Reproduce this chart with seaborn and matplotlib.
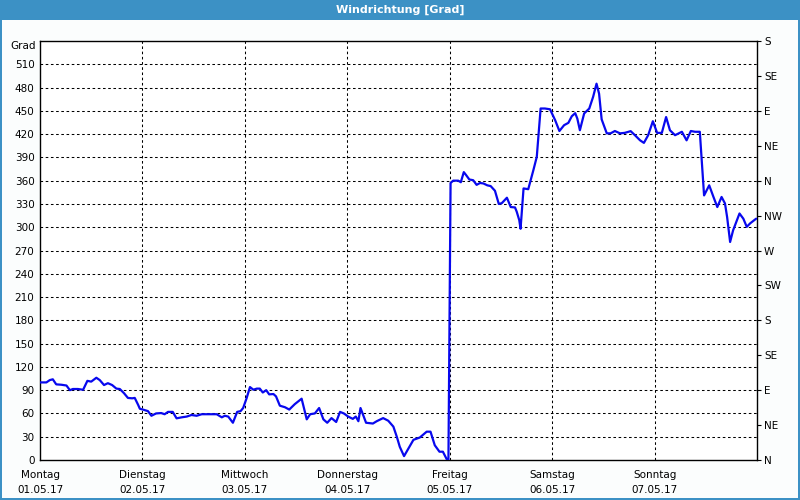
import numpy as np
import pandas as pd
import matplotlib
matplotlib.use("Agg")
import matplotlib.pyplot as plt
import seaborn as sns
from matplotlib.patches import Rectangle

# ---- data ----
hours = [0, 1.5, 2.3, 3.0, 3.8, 5.0, 6.2, 7.0, 7.7, 8.9, 10.1, 11.1, 12.0, 13.2, 14.0,
         15.0, 15.9, 16.9, 17.9, 18.7, 19.7, 20.6, 21.6, 22.2, 23.0, 23.4, 24.1, 25.3,
         26.1, 27.2, 28.4, 29.2, 30.0, 31.1, 32.0, 33.2, 34.4, 35.5, 36.7, 37.9, 39.1,
         40.2, 41.4, 42.6, 43.3, 44.1, 45.2, 46.2, 47.0, 47.6, 48.4, 49.2, 50.0, 50.8,
         51.5, 52.2, 53.0, 53.7, 54.7, 55.3, 56.2, 57.4, 58.4, 59.7, 61.3, 62.5, 63.3,
         64.4, 65.4, 66.4, 67.3, 68.3, 69.4, 70.3, 71.2, 72.2, 73.3, 74.0, 74.6, 75.1,
         76.4, 78.0, 78.9, 80.4, 81.6, 82.8, 83.6, 84.3, 85.3, 87.5, 89.0, 90.6, 91.5,
         92.5, 93.6, 94.4, 95.3, 95.7, 96.2, 96.8, 98.0, 98.6, 99.3, 99.8, 100.6, 101.5,
         102.3, 103.1, 103.9, 104.8, 105.6, 106.6, 107.5, 108.2, 109.4, 110.3, 111.3,
         111.7, 112.3, 112.6, 113.3, 114.4, 115.6, 116.4, 117.3, 118.3, 119.5, 120.7,
         121.7, 122.8, 123.8, 124.6, 125.4, 125.9, 126.5, 127.5, 128.7, 129.6, 130.4,
         131.0, 131.6, 132.8, 133.7, 134.7, 135.9, 137.0, 138.4, 139.4, 140.6, 141.5,
         142.5, 143.6, 144.6, 145.7, 146.7, 147.6, 148.8, 150.4, 151.5, 152.5, 153.5,
         154.6, 155.6, 156.8, 157.8, 158.7, 159.7, 160.5, 161.0, 161.7, 162.4, 163.9,
         164.8, 165.6, 166.4, 167.8]
degrees = [100, 100, 103, 104, 97.5, 97, 96, 90, 91.5, 91.5, 90.5, 102, 101, 106, 103,
           96.6, 99, 96.6, 92, 91.5, 86, 80, 79.5, 80, 71, 66, 65, 63,
           57, 60, 60.5, 59, 62, 62, 53.7, 55, 56, 58, 57, 59, 59,
           59, 59, 55, 57, 56, 48, 62, 63, 67, 79.5, 94, 90.6, 92,
           92, 87, 90, 84.6, 85, 82, 70, 68, 65, 72, 79, 52.4, 59,
           60, 67, 52.4, 48, 54, 49, 62, 60, 56, 53, 56, 50, 67,
           48, 47, 50, 54, 50.6, 43, 30, 17, 5, 26, 29, 36.5, 36.5,
           19, 10.7, 10.7, 1, 0, 357, 360, 360, 358, 371, 367.5, 361.5, 360.6,
           354.6, 357, 356.4, 354, 353, 347, 330, 331, 338, 326, 325.5,
           320, 309, 298, 350, 349, 373.5, 390.7, 453, 453, 452, 438,
           424, 431.5, 434.5, 443, 447, 440, 425, 446.6, 453, 468, 485,
           472, 439, 421, 421, 424, 421, 421.6, 423.8, 418.6, 412, 408.7,
           418.6, 436.6, 421.6, 421.6, 442, 425, 418.6, 423, 412, 424, 423,
           423, 341, 354, 339, 326, 339, 330.6, 313, 281, 296, 317.7,
           311, 300.5, 305, 311]

day_names = ["Montag", "Dienstag", "Mittwoch", "Donnerstag", "Freitag", "Samstag", "Sonntag"]
day_dates = ["01.05.17", "02.05.17", "03.05.17", "04.05.17", "05.05.17", "06.05.17", "07.05.17"]
left_ticks = list(range(0, 511, 30))
dir_labels = ["N", "NE", "E", "SE", "S", "SW", "W", "NW", "N", "NE", "E", "SE", "S"]
title = "Windrichtung [Grad]"

df = pd.DataFrame({"h": hours, "deg": degrees})

sns.set_theme(style="white")
plt.rcParams["font.family"] = ["DejaVu Sans"]

fig = plt.figure(figsize=(8, 5), dpi=100, facecolor="#fbfdfd")
W, H = 800, 500

# title bar and border
fig.patches.append(Rectangle((0, 1 - 20 / H), 1, 20 / H, transform=fig.transFigure,
                             facecolor="#3c91c5", edgecolor="none", zorder=0))
for (x0, y0, w, h) in [(0, 0, 2 / W, 1), (1 - 2 / W, 0, 2 / W, 1), (0, 0, 1, 2 / H)]:
    fig.patches.append(Rectangle((x0, y0), w, h, transform=fig.transFigure,
                                 facecolor="#3c91c5", edgecolor="none", zorder=0))
fig.text(0.5, 1 - 10 / H, title, color="white", fontsize=8, fontweight="bold",
         ha="center", va="center")

ax = fig.add_axes([40 / W, 1 - 460 / H, 717 / W, 419 / H])
ax.set_facecolor("white")

sns.lineplot(data=df, x="h", y="deg", ax=ax, color="#0808ee", linewidth=1.6, zorder=3)

ax.set_xlim(0, 168)
ax.set_ylim(0, 540)
ax.set_xticks([24 * i for i in range(7)])
ax.set_xticklabels([f"{n}\n{d}" for n, d in zip(day_names, day_dates)],
                   fontsize=7.5, color="black", linespacing=1.65)
ax.set_yticks(left_ticks)
ax.set_yticklabels([str(v) for v in left_ticks], fontsize=7.5, color="black")
ax.tick_params(axis="both", length=0, pad=4)
ax.tick_params(axis="x", pad=7)
ax.set_xlabel("")
ax.set_ylabel("")

# dashed grid
for v in left_ticks[1:]:
    ax.axhline(v, color="black", linestyle=(0, (2.5, 2.5)), linewidth=0.75, zorder=1)
for i in range(1, 7):
    ax.axvline(24 * i, color="black", linestyle=(0, (2.5, 2.5)), linewidth=0.75, zorder=1)

for s in ax.spines.values():
    s.set_visible(True)
    s.set_color("black")
    s.set_linewidth(1)

ax.text(-0.006, 1 - 5 / 419, "Grad", transform=ax.transAxes, ha="right", va="center",
        fontsize=7.5, color="black")

ax2 = ax.twinx()
ax2.set_ylim(0, 540)
ax2.set_yticks(list(range(0, 541, 45)))
ax2.set_yticklabels(dir_labels, fontsize=7.5, color="black")
ax2.tick_params(axis="y", direction="out", length=3, width=0.8, color="black", pad=2)
for s in ax2.spines.values():
    s.set_visible(False)
ax2.grid(False)
ax.grid(False)

fig.savefig("out.png", dpi=100, facecolor=fig.get_facecolor())
